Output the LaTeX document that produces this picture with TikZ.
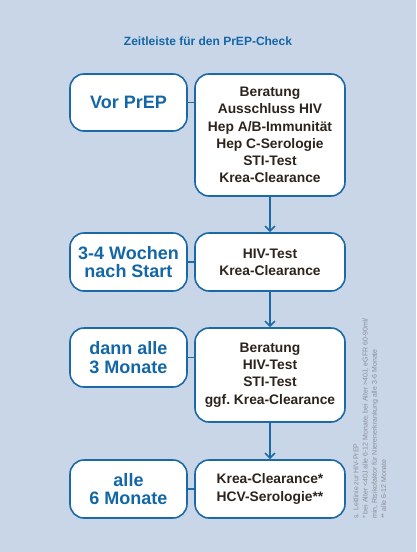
\documentclass[tikz,border=0pt]{standalone}
\usepackage{fontspec}
\setmainfont{Liberation Sans}
\usetikzlibrary{arrows.meta}
\definecolor{bg}{HTML}{C9D6E7}
\definecolor{boxblue}{HTML}{1B6AA6}
\definecolor{lefttext}{HTML}{1467A6}
\definecolor{darktext}{HTML}{2D241E}
\definecolor{notegray}{HTML}{8A8F98}
\begin{document}
\begin{tikzpicture}[x=1pt,y=-1pt,
  rbox/.style={draw=boxblue, line width=1.6pt, fill=white, rounded corners=14pt, inner sep=0pt, align=center},
  leftbox/.style={rbox, minimum width=117pt, text=lefttext, font=\fontsize{18}{18.3}\selectfont\bfseries},
  rightbox/.style={rbox, minimum width=150pt, text=darktext, font=\fontsize{13.8}{17.2}\selectfont\bfseries},
  conn/.style={draw=boxblue, line width=1.6pt},
  arr/.style={conn, -{Straight Barb[length=5pt,width=10pt,line width=1.6pt]}}
]
\useasboundingbox (0,0) rectangle (416,552);
\fill[bg] (0,0) rectangle (416,552);

\node[text=lefttext, font=\fontsize{12}{14}\selectfont\bfseries] (title) at (208,41) {Zeitleiste für den PrEP-Check};

% row 1
\node[leftbox, minimum height=57pt] (L1) at (128.5,102.5) {Vor PrEP};
\node[rightbox, minimum height=122pt] (R1) at (270,135) {Beratung\\Ausschluss HIV\\Hep A/B-Immunität\\Hep C-Serologie\\STI-Test\\Krea-Clearance};

% row 2
\node[leftbox, minimum height=58pt] (L2) at (128.5,262) {3-4 Wochen\\nach Start};
\node[rightbox, minimum height=58pt] (R2) at (270,262) {HIV-Test\\Krea-Clearance};

% row 3
\node[leftbox, minimum height=59pt] (L3) at (128.5,357.5) {dann alle\\3 Monate};
\node[rightbox, minimum height=94pt] (R3) at (270,375) {Beratung\\HIV-Test\\STI-Test\\ggf.\ Krea-Clearance};

% row 4
\node[leftbox, minimum height=58pt] (L4) at (128.5,489) {alle\\6 Monate};
\node[rightbox, minimum height=58pt] (R4) at (270,489) {Krea-Clearance*\\HCV-Serologie**};

% horizontal connectors
\draw[conn] (L1.east) -- (L1.east -| R1.west);
\draw[conn] (L2.east) -- (R2.west);
\draw[conn] (L3.east) -- (L3.east -| R3.west);
\draw[conn] (L4.east) -- (R4.west);

% vertical arrows
\draw[arr] (R1.south) -- (R2.north);
\draw[arr] (R2.south) -- (R3.north);
\draw[arr] (R3.south) -- (R4.north);

% footnote
\node[rotate=90, anchor=north west, inner sep=0pt, align=left, text=notegray,
  font=\fontsize{7}{9.3}\selectfont] (note) at (353,519)
  {s. Leitlinie zur HIV-PrEP\\
   * bei Alter <40J alle 6-12 Monate, bei Alter >40J, eGFR 60-90ml/\\
   min, Risikofaktor für Nierenerkrankung alle 3-6 Monate\\
   ** alle 6-12 Monate};
\end{tikzpicture}
\end{document}
